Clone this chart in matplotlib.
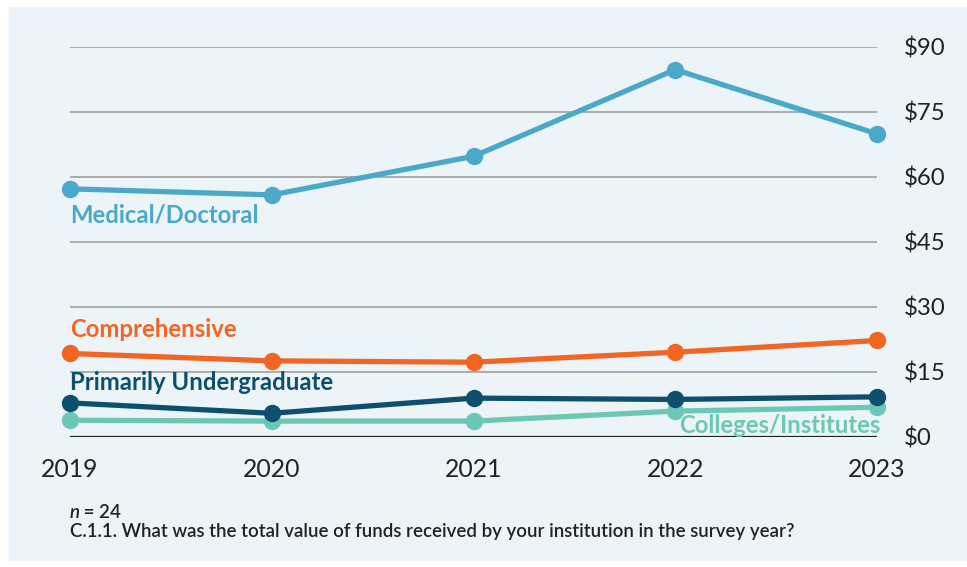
import matplotlib.pyplot as plt
import matplotlib.patches as patches

years = [2019, 2020, 2021, 2022, 2023]
medical = [57.2, 55.8, 64.7, 84.7, 69.9]
comprehensive = [19.2, 17.5, 17.2, 19.5, 22.2]
undergrad = [7.8, 5.4, 8.9, 8.6, 9.2]
colleges = [3.8, 3.6, 3.6, 5.9, 6.8]

yticks = [0, 15, 30, 45, 60, 75, 90]
ytick_labels = ['$' + str(v) for v in yticks]

plt.rcParams['font.family'] = ['Lato', 'DejaVu Sans']

fig = plt.figure(figsize=(9.67, 5.67), dpi=100, facecolor='white')

# light blue panel behind everything
bg = patches.Rectangle((9 / 967, 7 / 567), 1 - 9 / 967, 553 / 567,
                       transform=fig.transFigure, color='#ECF4F8', zorder=-10)
fig.patches.append(bg)

ax = fig.add_axes([70 / 967, 1 - 436.7 / 567, 807 / 967, 390 / 567])
ax.set_facecolor('none')
ax.set_xlim(2019, 2023)
ax.set_ylim(0, 90)

for s in ax.spines.values():
    s.set_visible(False)

# gridlines
for v in yticks[1:]:
    ax.axhline(v, color='#9a9a9a', lw=1.1, zorder=1)
ax.axhline(0, color='#222222', lw=1.6, zorder=1)

series = [
    (colleges, '#6CC8B4'),
    (undergrad, '#0E4F6E'),
    (comprehensive, '#F26522'),
    (medical, '#4BA8C8'),
]
for vals, col in series:
    ax.plot(years, vals, color=col, lw=3.8, marker='o', markersize=11.5,
            clip_on=False, zorder=3, solid_capstyle='round')

ax.yaxis.tick_right()
ax.set_yticks(yticks)
ax.set_yticklabels(ytick_labels)
ax.set_xticks(years)
ax.set_xticklabels([str(y) for y in years])
ax.tick_params(axis='y', length=0, pad=19, labelsize=17.3, labelcolor='#222222')
ax.tick_params(axis='x', length=0, pad=15, labelsize=17.8, labelcolor='#222222')

# series labels
lab_fs = 17.2
ax.text(2019, 51.2, 'Medical/Doctoral', color='#4BA8C8', fontsize=lab_fs,
        fontweight='bold', ha='left', va='center')
ax.text(2019, 24.8, 'Comprehensive', color='#F26522', fontsize=lab_fs,
        fontweight='bold', ha='left', va='center')
ax.text(2019, 12.4, 'Primarily Undergraduate', color='#0E4F6E', fontsize=lab_fs,
        fontweight='bold', ha='left', va='center')
ax.text(2023.015, 2.6, 'Colleges/Institutes', color='#6CC8B4', fontsize=lab_fs,
        fontweight='bold', ha='right', va='center')

# footnotes
fig.text(70 / 967, 1 - 512 / 567, 'n', fontsize=13.4, color='#222222',
         ha='left', va='center', style='italic', fontweight='semibold')
fig.text(79 / 967, 1 - 512 / 567, ' = 24', fontsize=13.4, color='#222222',
         ha='left', va='center', fontweight='semibold')
fig.text(70 / 967, 1 - 532 / 567,
         'C.1.1. What was the total value of funds received by your institution in the survey year?',
         fontsize=13.4, color='#222222', ha='left', va='center', fontweight='semibold')

fig.savefig('out.png', dpi=100, facecolor='white')
